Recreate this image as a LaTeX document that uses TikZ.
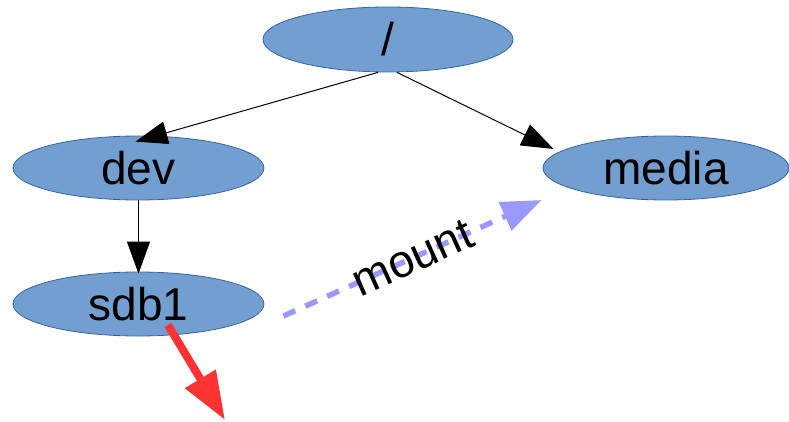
\documentclass[tikz,border=0pt]{standalone}
\usepackage{fontspec}
\setmainfont{Liberation Sans}
\usetikzlibrary{arrows.meta,shapes.geometric}
\definecolor{nodefill}{HTML}{729FCF}
\definecolor{nodeline}{HTML}{3465A4}
\definecolor{mountblue}{HTML}{9999FF}
\definecolor{alertred}{HTML}{FF3333}
\tikzset{
  dirnode/.style={ellipse, draw=nodeline, line width=0.8pt, fill=nodefill,
    inner sep=0pt, font=\fontsize{46}{50}\selectfont},
  treeedge/.style={draw=black, line width=1pt,
    -{Triangle[length=32pt,width=23pt]}},
  mountedge/.style={draw=mountblue, line width=5.5pt, dash pattern=on 13pt off 11pt,
    -{Triangle[length=40pt,width=30pt]}},
  alertedge/.style={draw=alertred, line width=8pt,
    -{Triangle[length=48pt,width=34pt]}}
}
\begin{document}
\begin{tikzpicture}[x=1pt,y=1pt]
  \useasboundingbox (0,0) rectangle (789,421);

  % directory tree
  \node[dirnode, minimum width=250pt, minimum height=65pt] (root)  at (388,381.5) {/};
  \node[dirnode, minimum width=251pt, minimum height=64pt] (dev)   at (138.5,253) {dev};
  \node[dirnode, minimum width=251pt, minimum height=64pt] (sdb1)  at (138.5,117) {sdb1};
  \node[dirnode, minimum width=246pt, minimum height=64pt] (media) at (666,253) {media};

  \draw[treeedge] ([xshift=-10pt]root.south) -- ([shift={(-3pt,-6pt)}]dev.north);
  \draw[treeedge] ([xshift=9pt]root.south) -- ([shift={(11pt,19pt)}]media.west);
  \draw[treeedge] (dev.south) -- ([yshift=-2pt]sdb1.north);

  % mounting the device
  \draw[mountedge] ([shift={(19pt,-12pt)}]sdb1.east) -- ([shift={(-1pt,-32pt)}]media.west)
    node[midway, sloped, text=black, font=\fontsize{46}{50}\selectfont] (mountlabel) {mount};

  % red arrow leaving the device
  \coordinate (drop) at (225,1);
  \draw[alertedge] ([shift={(29.5pt,-21pt)}]sdb1.center) -- (drop);
\end{tikzpicture}
\end{document}
